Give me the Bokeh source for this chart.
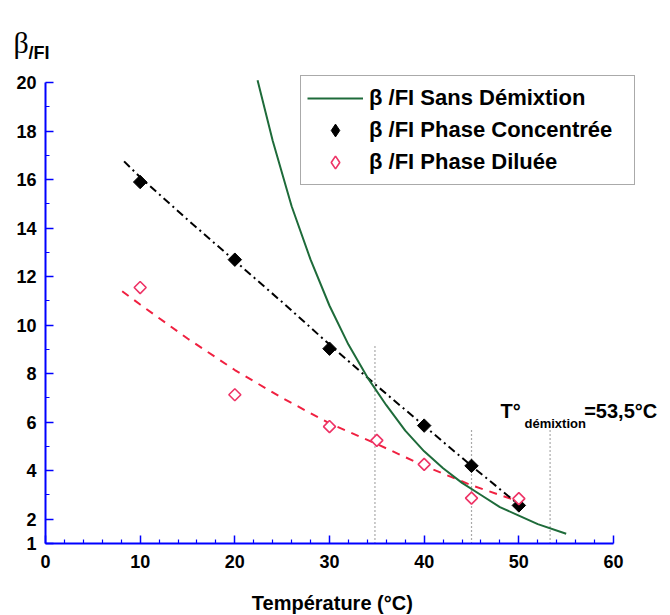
from bokeh.plotting import figure
from bokeh.models import Range1d, FixedTicker, Label, Legend, LegendItem
from bokeh.embed import file_html
from bokeh.resources import INLINE
import math

# ---- data ----
temps_conc = [10, 20, 30, 40, 45, 50]
beta_conc = [15.9, 12.7, 9.03, 5.86, 4.2, 2.57]

temps_dil = [10, 20, 30, 35, 40, 45, 50]
beta_dil = [11.55, 7.13, 5.82, 5.25, 4.26, 2.87, 2.85]

# curve "sans démixtion"
sans_x = [22.4, 24, 26, 28, 30, 32, 34, 36, 38, 40, 42, 44, 46, 48, 50, 52, 55]
sans_y = [20.1, 17.6, 14.9, 12.7, 10.8, 9.2, 7.85, 6.7, 5.65, 4.8, 4.1, 3.5, 3.0, 2.5, 2.15, 1.8, 1.4]

# trend line concentrated phase
fit_conc_x = [8.3, 10, 15, 20, 25, 30, 35, 40, 45, 50]
fit_conc_y = [16.75, 16.1, 14.35, 12.65, 10.95, 9.2, 7.5, 5.85, 4.2, 2.6]

# trend line diluted phase
fit_dil_x = [8.1, 10, 15, 20, 25, 30, 35, 40, 45, 49.5]
fit_dil_y = [11.4, 10.85, 9.45, 8.15, 7.0, 5.95, 5.1, 4.2, 3.4, 2.8]

# vertical dotted markers
demix_x = [34.8, 45, 53.3]
demix_top = [9.2, 5.7, 5.7]

x_major = [0, 10, 20, 30, 40, 50, 60]
x_minor = [v for v in range(0, 61, 2) if v % 10 != 0]
y_major = [1, 2, 4, 6, 8, 10, 12, 14, 16, 18, 20]
y_minor = [3, 5, 7, 9, 11, 13, 15, 17, 19]

label_sans = "β /FI Sans Démixtion"
label_conc = "β /FI Phase Concentrée"
label_dil = "β /FI Phase Diluée"

FONT = "Liberation Sans"

W, H = 670, 615
X0_PX, Y1_PX = 45, 543          # canvas position of x=0 and y=1
PX_X, PX_Y = 9.467, 24.26       # pixels per data unit

p = figure(width=W, height=H, output_backend="svg", toolbar_location=None,
           x_range=Range1d(-X0_PX / PX_X, (W - X0_PX) / PX_X),
           y_range=Range1d(1 - (H - Y1_PX) / PX_Y, 1 + Y1_PX / PX_Y),
           min_border=0)
p.outline_line_color = None
p.xgrid.visible = False
p.ygrid.visible = False
p.background_fill_color = "white"

p.xaxis.fixed_location = 1
p.yaxis.fixed_location = 0
p.xaxis.bounds = (0, 60)
p.yaxis.bounds = (1, 20)

for ax, maj, mnr, stand in ((p.xaxis[0], x_major, x_minor, 11), (p.yaxis[0], y_major, y_minor, 9)):
    ax.ticker = FixedTicker(ticks=maj, minor_ticks=mnr)
    ax.axis_line_color = "blue"
    ax.axis_line_width = 2
    ax.major_tick_line_color = "blue"
    ax.minor_tick_line_color = "blue"
    ax.major_tick_line_width = 1.5
    ax.minor_tick_line_width = 1.2
    ax.major_tick_in = 8
    ax.major_tick_out = 0
    ax.minor_tick_in = 4
    ax.minor_tick_out = 0
    ax.major_label_text_font = FONT
    ax.major_label_text_font_style = "bold"
    ax.major_label_text_font_size = "18px"
    ax.major_label_text_color = "black"
    ax.major_label_standoff = stand

# dotted verticals
p.segment(x0=demix_x, y0=[1] * len(demix_x), x1=demix_x, y1=demix_top,
          line_color="#555555", line_width=1.2, line_dash="1 3")

# trend lines
p.line(fit_dil_x, fit_dil_y, line_color="#f02040", line_width=2, line_dash="8 7")
p.line(fit_conc_x, fit_conc_y, line_color="black", line_width=2, line_dash="8 4 2 4")
r_sans = p.line(sans_x, sans_y, line_color="#1e6b3a", line_width=2)

p.scatter(temps_conc, beta_conc, marker="square", angle=math.pi / 4, size=9.5,
          fill_color="black", line_color="black")
p.scatter(temps_dil, beta_dil, marker="square", angle=math.pi / 4, size=8.5,
          fill_color="white", line_color="#ee3366", line_width=1.6)

# legend glyph stand-ins (not data, never visible in the plot area)
nan = float("nan")
leg_conc = p.scatter(x=[nan], y=[nan], marker="diamond", fill_color="black", line_color="black")
leg_dil = p.scatter(x=[nan], y=[nan], marker="diamond", fill_color="white",
                    line_color="#ee3366", line_width=1.6)

legend = Legend(items=[LegendItem(label=label_sans, renderers=[r_sans]),
                       LegendItem(label=label_conc, renderers=[leg_conc]),
                       LegendItem(label=label_dil, renderers=[leg_dil])],
                location=(X0_PX + 255, H - Y1_PX + 358), padding=6, margin=0, spacing=0,
                glyph_width=56, glyph_height=32, label_height=30, label_width=259,
                label_standoff=6,
                label_text_font=FONT, label_text_font_style="bold",
                label_text_font_size="22px", label_text_color="black",
                border_line_color="#555555", border_line_width=1.5,
                background_fill_color="white", background_fill_alpha=1)
p.add_layout(legend, "center")

def lab(x, y, text, size, style="bold", font=FONT, align="left"):
    p.add_layout(Label(x=x, y=y, text=text, text_font=font, text_font_size=size,
                       text_font_style=style, text_color="black", text_align=align,
                       text_baseline="alphabetic"))

# y-axis title
lab(-3.38, 21.65, "β", "30px", style="normal", font="Liberation Serif")
lab(-1.80, 21.2, "/FI", "18px")
# x-axis title
lab(30.3, -1.45, "Température (°C)", "20px", align="center")
# annotation
lab(48.06, 6.48, "T°", "20px")
lab(50.6, 5.95, "démixtion", "13px")
lab(56.9, 6.48, "=53,5°C", "20px")

open("out.html", "w").write(file_html(p, INLINE))
